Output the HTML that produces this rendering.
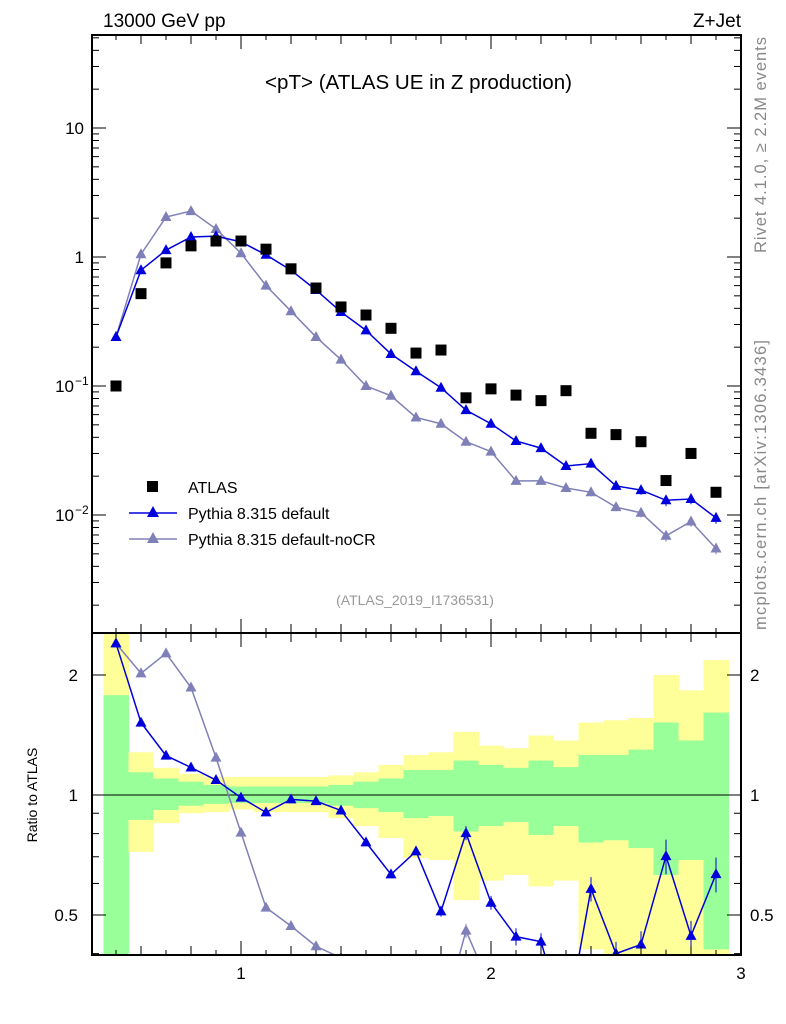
<!DOCTYPE html>
<html><head><meta charset="utf-8">
<style>
html,body{margin:0;background:#fff;overflow:hidden;width:786px;height:1024px;}
svg{display:block;font-family:"Liberation Sans",sans-serif;}
</style></head>
<body>
<svg id="c" width="786" height="1024" viewBox="0 0 786 1024" xmlns="http://www.w3.org/2000/svg">
<defs>
<clipPath id="clipM"><rect x="92" y="35" width="649" height="598"/></clipPath>
<clipPath id="clipR"><rect x="92" y="633" width="649" height="322"/></clipPath>
</defs>
<g id="bands" clip-path="url(#clipR)"></g>
<g id="marks"></g>
<g id="axes"></g>
<text x="103" y="27" font-size="19">13000 GeV pp</text>
<text x="741" y="27" font-size="19" text-anchor="end">Z+Jet</text>
<text x="265" y="89" font-size="20" textLength="307" lengthAdjust="spacingAndGlyphs">&lt;pT&gt; (ATLAS UE in Z production)</text>
<text x="415" y="605" font-size="14" fill="#999" text-anchor="middle">(ATLAS_2019_I1736531)</text>
<text transform="translate(766,253) rotate(-90)" font-size="16.5" fill="#888" textLength="216">Rivet 4.1.0, ≥ 2.2M events</text>
<text transform="translate(766,630) rotate(-90)" font-size="16.5" fill="#888" textLength="290">mcplots.cern.ch [arXiv:1306.3436]</text>
<text transform="translate(37,795) rotate(-90)" font-size="14" text-anchor="middle">Ratio to ATLAS</text>
<g>
<rect x="147" y="481" width="11" height="11" fill="#000"/>
<text x="188" y="493" font-size="16">ATLAS</text>
<line x1="129" y1="513" x2="177" y2="513" stroke="#0000dd" stroke-width="1.5"/>
<polygon points="153,506 159,517 147,517" fill="#0000dd"/>
<text x="188" y="519" font-size="16">Pythia 8.315 default</text>
<line x1="129" y1="539" x2="177" y2="539" stroke="#8080b8" stroke-width="1.5"/>
<polygon points="153,532 159,543 147,543" fill="#8080b8"/>
<text x="188" y="545" font-size="16">Pythia 8.315 default-noCR</text>
</g>
</svg>
<script>
const xs=[0.5,0.6,0.7,0.8,0.9,1.0,1.1,1.2,1.3,1.4,1.5,1.6,1.7,1.8,1.9,2.0,2.1,2.2,2.3,2.4,2.5,2.6,2.7,2.8,2.9];
const atlas=[0.1,0.52,0.9,1.22,1.33,1.33,1.15,0.81,0.575,0.41,0.355,0.28,0.18,0.19,0.081,0.095,0.085,0.077,0.092,0.043,0.042,0.037,0.0185,0.03,0.015];
const pyDef=[0.24,0.79,1.13,1.43,1.45,1.31,1.04,0.79,0.555,0.375,0.27,0.177,0.13,0.097,0.065,0.051,0.0375,0.033,0.024,0.025,0.0168,0.0156,0.013,0.0133,0.0095];
const pyNoCR=[0.24,1.05,2.04,2.27,1.65,1.07,0.6,0.38,0.24,0.16,0.1,0.084,0.057,0.051,0.037,0.031,0.0184,0.0184,0.0162,0.015,0.0115,0.0104,0.0069,0.0089,0.0055];
const relErr=[0.01,0.01,0.01,0.01,0.01,0.01,0.01,0.01,0.01,0.01,0.02,0.02,0.02,0.03,0.04,0.04,0.05,0.05,0.06,0.07,0.07,0.08,0.1,0.09,0.1];
const yelUp=[2.6,1.28,1.17,1.13,1.11,1.11,1.11,1.11,1.11,1.12,1.14,1.19,1.26,1.28,1.44,1.33,1.31,1.41,1.37,1.52,1.54,1.56,2.0,1.83,2.18];
const grnUp=[1.78,1.14,1.10,1.08,1.06,1.05,1.05,1.05,1.05,1.06,1.08,1.10,1.155,1.155,1.22,1.19,1.17,1.22,1.175,1.26,1.26,1.30,1.52,1.37,1.61];
const grnLo=[0.35,0.866,0.917,0.94,0.95,0.955,0.955,0.955,0.955,0.94,0.927,0.906,0.875,0.886,0.81,0.836,0.856,0.794,0.836,0.76,0.77,0.736,0.63,0.687,0.41];
const yelLo=[0.35,0.72,0.85,0.90,0.906,0.92,0.906,0.906,0.906,0.875,0.836,0.78,0.695,0.687,0.545,0.61,0.63,0.59,0.61,0.41,0.38,0.38,0.35,0.35,0.35];
const mainTicks=[{v:10,t:"10"},{v:1,t:"1"},{v:0.1,t:"10",e:"−1"},{v:0.01,t:"10",e:"−2"}];
const ratioTicks=[{v:2,t:"2"},{v:1,t:"1"},{v:0.5,t:"0.5"}];
const xTicks=[1,2,3];

const NS="http://www.w3.org/2000/svg";
const X=v=>91+(v-0.4)*250;
const YM=v=>257-Math.log10(v)*129;
const YR=v=>795-Math.log2(v)*120;
function mk(tag,attrs,parent){const e=document.createElementNS(NS,tag);for(const k in attrs)e.setAttribute(k,attrs[k]);parent.appendChild(e);return e;}
const bands=document.getElementById('bands'),marks=document.getElementById('marks'),axes=document.getElementById('axes');

xs.forEach((x,i)=>{
  const a=mk('rect',{x:X(x-0.05),y:YR(yelUp[i]),width:X(x+0.05)-X(x-0.05)+0.5,height:YR(yelLo[i])-YR(yelUp[i]),fill:'#ffff99'},bands);
  
  
  const g=mk('rect',{x:X(x-0.05),y:YR(grnUp[i]),width:X(x+0.05)-X(x-0.05)+0.5,height:YR(grnLo[i])-YR(grnUp[i]),fill:'#99ff99'},bands);
  
  
});
mk('line',{x1:92,y1:YR(1),x2:741,y2:YR(1),stroke:'#000','stroke-width':1},marks);

const gm=mk('g',{'clip-path':'url(#clipM)'},marks);
const gr=mk('g',{'clip-path':'url(#clipR)'},marks);
function series(vals,color,name){
  let pts=xs.map((x,i)=>X(x)+','+YM(vals[i])).join(' ');
  const l=mk('polyline',{points:pts,fill:'none',stroke:color,'stroke-width':1.5},gm);
  
  
  const rv=vals.map((v,i)=>v/atlas[i]);
  let rp=xs.map((x,i)=>X(x)+','+YR(rv[i])).join(' ');
  const rl=mk('polyline',{points:rp,fill:'none',stroke:color,'stroke-width':1.5},gr);
  
  
  xs.forEach((x,i)=>{
    const cx=X(x);
    [[vals[i],YM,gm],[rv[i],YR,gr]].forEach(([v,f,par])=>{
      const cy=f(v);
      const e=relErr[i];
      mk('line',{x1:cx,x2:cx,y1:f(v*(1+e)),y2:f(v*(1-e)),stroke:color,'stroke-width':1},par);
      const p=mk('polygon',{points:`${cx},${cy-6} ${cx+5.5},${cy+4} ${cx-5.5},${cy+4}`,fill:color},par);
      
      
    });
  });
}
series(pyNoCR,'#8080b8','pythia-nocr');
series(pyDef,'#0000dd','pythia-default');
xs.forEach((x,i)=>{
  const r=mk('rect',{x:X(x)-5.5,y:YM(atlas[i])-5.5,width:11,height:11,fill:'#000'},gm);
  
  
});

mk('rect',{x:92,y:35,width:649,height:598,fill:'none',stroke:'#000','stroke-width':2},axes);
mk('rect',{x:92,y:633,width:649,height:322,fill:'none',stroke:'#000','stroke-width':2},axes);
function tk(x1,y1,x2,y2){mk('line',{x1,y1,x2,y2,stroke:'#000','stroke-width':1},axes);}
for(let d=-3;d<=1;d++)for(let m=1;m<=9;m++){
  const v=m*Math.pow(10,d);const y=YM(v);if(y<35||y>633)continue;
  const L=m===1?14:7;tk(92,y,92+L,y);tk(741,y,741-L,y);
}
mainTicks.forEach(t=>{
  const y=YM(t.v);
  const e=mk('text',{x:t.e?74:84,y:y+6,'font-size':17,'text-anchor':'end'},axes);
  e.textContent=t.t;
  
  
  if(t.e){const s=mk('tspan',{'font-size':12,dy:-7},e);s.textContent=t.e;s.setAttribute('x',75);s.setAttribute('text-anchor','start');}
});
[0.4,0.5,0.6,0.7,0.8,0.9,1,2].forEach(v=>{const y=YR(v);const L=(v===1||v===2||v===0.5)?14:7;tk(92,y,92+L,y);tk(741,y,741-L,y);});
ratioTicks.forEach(t=>{
  const y=YR(t.v);
  const e=mk('text',{x:78,y:y+6,'font-size':17,'text-anchor':'end'},axes);
  e.textContent=t.t;
  
  
  const e2=mk('text',{x:750,y:y+6,'font-size':17},axes);
  e2.textContent=t.t;
  
  
});
for(let k=5;k<=30;k++){
  const v=k/10,x=X(v);
  const L=(k%10===0)?14:(k%2===0?9:5);
  tk(x,633,x,633-L);tk(x,35,x,35+L);tk(x,955,x,955-L);tk(x,633,x,633+L);
}
xTicks.forEach(v=>{
  const e=mk('text',{x:X(v),y:979,'font-size':17,'text-anchor':'middle'},axes);
  e.textContent=v;
  
  
});
</script>
</body></html>
